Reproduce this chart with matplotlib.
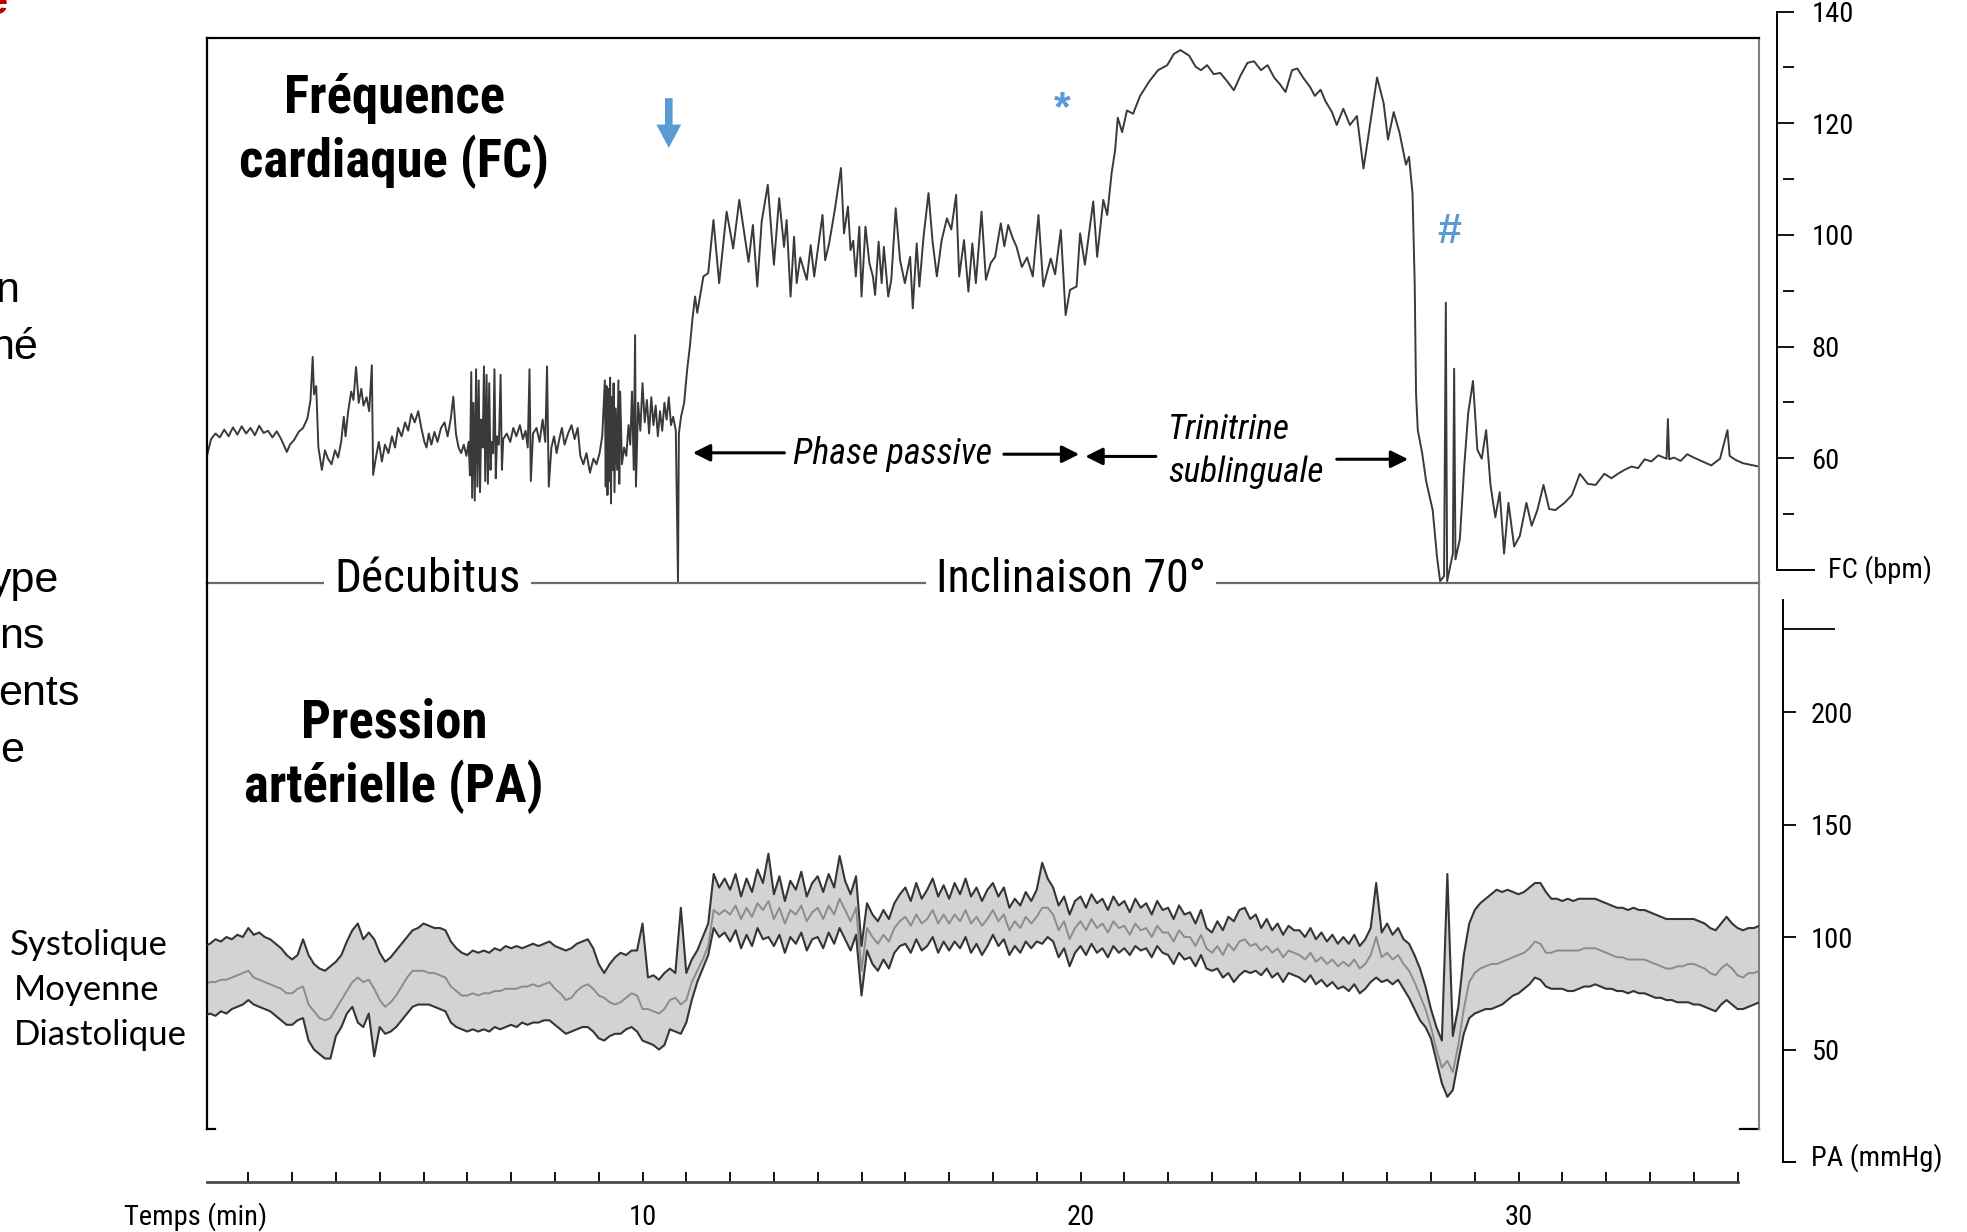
import numpy as np
import matplotlib
matplotlib.use('Agg')
import matplotlib.pyplot as plt
from matplotlib import font_manager

# ---------------------------------------------------------------------------
# Fonts : the slide uses Arial Narrow; fall back to Liberation Sans, smaller
# ---------------------------------------------------------------------------
_names = {f.name for f in font_manager.fontManager.ttflist}
NARROW, NS = 'Liberation Sans', 0.84
for cand in ('Liberation Sans Narrow', 'Roboto Condensed'):
    if cand in _names:
        NARROW, NS = cand, 1.0
        break
ARIAL = 'Liberation Sans'
CALIBRI = 'Lato'
BLUE = '#5B9BD5'
plt.rcParams['font.family'] = [NARROW, 'DejaVu Sans']

# ---------------------------------------------------------------------------
# Data : heart rate (min, bpm), by phase
# ---------------------------------------------------------------------------
fc_supine = [
    (0.05, 60.3), (0.15, 63.5), (0.25, 64.5), (0.35, 63.8), (0.45, 65.2), (0.55, 64.0), (0.65, 65.6), (0.75, 64.3),
    (0.85, 65.8), (0.95, 64.5), (1.05, 65.5), (1.15, 64.2), (1.25, 65.9), (1.35, 64.6), (1.45, 65.0), (1.55, 63.8),
    (1.65, 64.9), (1.75, 63.5), (1.88, 61.2), (1.95, 62.5), (2.05, 63.4), (2.15, 64.8), (2.25, 65.5), (2.35, 67.2),
    (2.42, 70.5), (2.47, 78.2), (2.50, 71.5), (2.55, 73.0), (2.60, 62.0), (2.68, 58.0), (2.75, 61.5), (2.82, 60.0),
    (2.90, 59.0), (2.98, 61.5), (3.05, 60.2), (3.12, 63.0), (3.18, 67.5), (3.22, 64.0), (3.28, 68.5), (3.35, 72.0),
    (3.40, 70.5), (3.46, 76.4), (3.52, 70.0), (3.58, 72.5), (3.63, 69.5), (3.70, 71.0), (3.76, 68.5), (3.82, 76.7),
    (3.85, 57.1), (3.92, 60.5), (3.98, 63.0), (4.05, 59.5), (4.12, 62.5), (4.20, 61.0), (4.28, 64.0), (4.35, 62.0),
    (4.42, 65.5), (4.50, 64.0), (4.58, 66.5), (4.65, 65.0), (4.72, 68.0), (4.80, 66.5), (4.88, 68.5), (4.95, 65.5),
    (5.02, 63.0), (5.07, 62.0), (5.12, 64.5), (5.18, 62.5), (5.25, 64.8), (5.32, 63.0), (5.40, 65.5), (5.48, 66.5),
    (5.55, 64.0), (5.62, 67.0), (5.68, 71.1), (5.74, 64.5), (5.80, 62.0), (5.86, 61.0), (5.92, 62.5), (5.98, 60.5),
    (6.03, 63.0), (6.06, 57.0), (6.09, 75.5), (6.11, 53.0), (6.14, 70.0), (6.17, 52.5), (6.20, 76.0), (6.23, 55.0),
    (6.26, 74.0), (6.29, 54.0), (6.32, 67.0), (6.35, 62.0), (6.38, 76.5), (6.41, 56.0), (6.44, 75.0), (6.47, 55.5),
    (6.50, 73.5), (6.53, 58.0), (6.56, 63.0), (6.59, 61.0), (6.62, 76.0), (6.65, 56.5), (6.68, 64.0), (6.72, 62.5),
    (6.76, 75.0), (6.79, 58.0), (6.82, 63.5), (6.90, 64.5), (6.98, 63.0), (7.05, 65.5), (7.12, 64.0), (7.20, 66.0),
    (7.27, 63.5), (7.33, 65.0), (7.38, 62.0), (7.42, 76.0), (7.45, 56.0), (7.50, 64.5), (7.58, 65.5), (7.65, 63.0),
    (7.72, 67.0), (7.78, 63.0), (7.82, 76.5), (7.86, 55.0), (7.92, 62.0), (7.98, 64.0), (8.04, 61.0), (8.10, 63.5),
    (8.16, 65.5), (8.22, 62.5), (8.30, 64.5), (8.38, 66.0), (8.45, 63.5), (8.52, 65.5), (8.58, 60.5), (8.65, 59.0),
    (8.72, 61.0), (8.80, 57.5), (8.88, 60.0), (8.95, 59.0), (9.02, 61.0), (9.08, 64.0), (9.14, 74.0), (9.16, 55.0),
    (9.18, 73.0), (9.20, 53.5), (9.22, 72.5), (9.24, 56.0), (9.26, 74.5), (9.28, 52.0), (9.30, 71.0), (9.32, 58.0),
    (9.34, 73.5), (9.36, 54.0), (9.39, 69.0), (9.42, 58.0), (9.45, 74.0), (9.47, 55.5), (9.49, 72.0), (9.53, 59.0),
    (9.58, 62.0), (9.63, 60.5), (9.68, 66.0), (9.72, 62.5), (9.76, 72.0), (9.80, 58.0), (9.83, 82.1), (9.85, 55.0),
    (9.90, 70.0), (9.95, 65.0), (10.00, 73.5), (10.05, 66.5), (10.10, 70.5), (10.15, 64.5), (10.20, 71.0), (10.25, 66.0),
    (10.30, 69.5), (10.35, 64.0), (10.40, 68.5), (10.45, 65.0), (10.50, 70.0), (10.55, 67.0), (10.60, 71.0), (10.65, 66.0),
    (10.70, 67.5), (10.76, 65.0), (10.81, 38.0), (10.83, 64.5),
]

fc_tilt = [
    (10.88, 67.5), (10.95, 70.0), (11.02, 76.0), (11.08, 80.0), (11.14, 85.0), (11.20, 89.0), (11.25, 86.1), (11.39, 92.6),
    (11.50, 93.2), (11.62, 102.7), (11.75, 91.4), (11.92, 104.2), (12.07, 97.6), (12.21, 106.3), (12.42, 95.2), (12.52, 101.8),
    (12.62, 90.8), (12.72, 102.4), (12.86, 109.0), (13.00, 94.7), (13.12, 106.6), (13.23, 97.9), (13.29, 102.7), (13.38, 89.0),
    (13.46, 99.7), (13.52, 91.4), (13.60, 96.0), (13.67, 94.1), (13.75, 92.0), (13.84, 98.2), (13.92, 92.6), (14.01, 97.9),
    (14.11, 103.6), (14.17, 95.5), (14.26, 98.5), (14.39, 104.5), (14.53, 112.0), (14.60, 100.3), (14.69, 105.1), (14.75, 97.3),
    (14.81, 99.0), (14.87, 92.6), (14.95, 101.5), (15.00, 89.0), (15.09, 101.5), (15.18, 95.0), (15.26, 92.6), (15.31, 89.3),
    (15.39, 98.8), (15.46, 91.4), (15.51, 97.9), (15.61, 89.0), (15.68, 92.0), (15.78, 104.8), (15.88, 95.5), (15.99, 91.4),
    (16.11, 96.1), (16.17, 86.9), (16.26, 98.5), (16.32, 90.8), (16.42, 100.0), (16.53, 107.5), (16.62, 99.0), (16.72, 92.6),
    (16.83, 99.1), (16.95, 103.0), (17.05, 101.0), (17.16, 107.2), (17.23, 92.6), (17.34, 99.1), (17.44, 89.9), (17.53, 98.5),
    (17.61, 91.4), (17.74, 104.2), (17.84, 92.0), (17.95, 95.0), (18.05, 96.1), (18.18, 102.1), (18.26, 98.0), (18.35, 101.8),
    (18.45, 99.5), (18.54, 97.9), (18.66, 94.3), (18.78, 96.0), (18.91, 92.6), (19.04, 103.6), (19.15, 90.8), (19.32, 95.8),
    (19.42, 93.0), (19.55, 100.9), (19.66, 85.7), (19.76, 90.2), (19.91, 90.8), (19.99, 100.3), (20.10, 94.7),
]

fc_nitro = [
    (20.29, 106.0), (20.38, 96.1), (20.52, 106.3), (20.61, 103.6), (20.71, 111.1), (20.79, 115.2), (20.85, 121.0), (20.95, 118.4),
    (21.06, 122.3), (21.20, 121.7), (21.36, 124.9), (21.57, 127.5), (21.77, 129.5), (21.98, 130.4), (22.13, 132.4), (22.28, 133.1),
    (22.48, 132.1), (22.63, 130.1), (22.75, 129.5), (22.89, 130.4), (23.04, 128.8), (23.19, 129.0), (23.35, 127.5), (23.50, 125.9),
    (23.65, 128.5), (23.81, 130.8), (23.96, 131.1), (24.12, 129.5), (24.27, 130.4), (24.42, 128.2), (24.55, 127.0), (24.68, 125.6),
    (24.83, 129.5), (24.95, 129.8), (25.08, 128.2), (25.24, 126.5), (25.35, 124.9), (25.48, 126.0), (25.59, 124.0), (25.74, 122.0),
    (25.85, 119.7), (26.00, 122.6), (26.15, 119.7), (26.31, 121.3), (26.46, 111.9), (26.56, 117.1), (26.77, 128.2), (26.92, 123.6),
    (27.02, 117.1), (27.15, 122.0), (27.28, 118.4), (27.43, 112.6), (27.50, 114.0), (27.58, 107.4),
]

fc_syncope = [
    (27.63, 91.1), (27.66, 71.6), (27.70, 65.1), (27.80, 61.0), (27.89, 56.0), (28.04, 50.8), (28.14, 42.3), (28.21, 38.1),
    (28.30, 39.0), (28.34, 87.9), (28.37, 38.1), (28.50, 43.0), (28.53, 76.1), (28.56, 42.0), (28.66, 45.6), (28.76, 58.6),
    (28.85, 68.1), (28.96, 73.9), (29.06, 61.6), (29.16, 60.0), (29.26, 65.1), (29.36, 55.3), (29.47, 49.5), (29.57, 54.0),
    (29.67, 43.0), (29.77, 52.1), (29.90, 44.3), (30.03, 46.2), (30.18, 52.1), (30.30, 48.0), (30.43, 50.8), (30.57, 55.3),
    (30.70, 51.0), (30.84, 50.8), (31.05, 52.1), (31.22, 53.5), (31.40, 57.3), (31.58, 55.5), (31.76, 55.3), (31.96, 57.3),
    (32.12, 56.5), (32.27, 57.3), (32.42, 58.0), (32.58, 58.6), (32.73, 58.3), (32.88, 59.9), (33.03, 59.5), (33.19, 60.6),
    (33.38, 60.0), (33.41, 67.1), (33.44, 59.9), (33.55, 60.2), (33.70, 59.6), (33.85, 60.8), (34.00, 60.2), (34.20, 59.5),
    (34.40, 58.8), (34.60, 60.0), (34.77, 65.1), (34.82, 60.5), (34.95, 59.8), (35.12, 59.2), (35.30, 58.9), (35.48, 58.6),
]

# ---------------------------------------------------------------------------
# Data : blood pressure (mmHg), one value every PA_STEP minutes, 8 per row = 1 min
# ---------------------------------------------------------------------------
PA_STEP = 0.125
pa_sys = [
    96, 97, 99, 98, 100, 99, 101, 100,
    104, 101, 102, 100, 99, 97, 95, 92,
    90, 92, 99, 92, 88, 86, 85, 87,
    89, 92, 98, 103, 106, 99, 102, 99,
    93, 89, 91, 94, 97, 100, 103, 104,
    106, 105, 104, 104, 103, 98, 95, 93,
    92, 94, 93, 94, 93, 95, 94, 96,
    95, 96, 95, 96, 97, 96, 97, 98,
    96, 95, 94, 95, 97, 98, 99, 95,
    88, 84, 88, 91, 93, 92, 94, 94,
    106, 82, 83, 81, 84, 86, 84, 113,
    84, 90, 94, 100, 106, 128, 122, 126,
    121, 128, 118, 126, 120, 130, 124, 137,
    119, 127, 116, 125, 121, 129, 118, 124,
    127, 120, 128, 122, 136, 125, 119, 127,
    96, 115, 110, 107, 112, 108, 115, 119,
    122, 116, 124, 117, 121, 126, 118, 123,
    117, 124, 119, 126, 118, 122, 116, 121,
    124, 118, 122, 113, 117, 114, 120, 116,
    121, 133, 126, 122, 114, 118, 110, 116,
    118, 113, 119, 115, 117, 112, 118, 114,
    116, 111, 117, 113, 115, 110, 116, 112,
    113, 108, 114, 110, 111, 106, 112, 104,
    102, 107, 103, 109, 107, 112, 113, 108,
    110, 104, 108, 103, 106, 101, 105, 103,
    103, 100, 104, 99, 102, 98, 101, 97,
    100, 97, 101, 96, 99, 104, 124, 102,
    106, 101, 104, 99, 97, 92, 86, 78,
    68, 60, 54, 128, 56, 69, 92, 106,
    112, 115, 117, 119, 121, 120, 121, 120,
    119, 120, 122, 124, 124, 120, 117, 117,
    116, 117, 116, 117, 117, 117, 117, 116,
    115, 114, 113, 113, 112, 113, 112, 112,
    111, 110, 109, 108, 108, 108, 108, 108,
    108, 107, 106, 104, 103, 106, 109, 106,
    104, 103, 104, 104, 105,
]
pa_mean = [
    79, 80, 80, 81, 81, 82, 83, 84,
    85, 82, 81, 80, 79, 78, 77, 75,
    75, 77, 78, 70, 67, 64, 63, 64,
    68, 72, 76, 80, 82, 80, 81, 77,
    72, 69, 71, 74, 78, 82, 85, 85,
    85, 84, 84, 83, 82, 78, 76, 74,
    74, 75, 74, 75, 75, 76, 76, 77,
    77, 77, 78, 78, 79, 78, 79, 80,
    77, 75, 72, 73, 76, 78, 79, 77,
    74, 73, 71, 70, 71, 73, 75, 74,
    68, 68, 67, 66, 68, 72, 73, 70,
    72, 80, 85, 90, 96, 112, 110, 112,
    110, 114, 108, 113, 109, 115, 112, 116,
    108, 113, 106, 112, 110, 114, 107, 111,
    113, 108, 114, 110, 117, 112, 107, 113,
    85, 104, 100, 97, 101, 98, 104, 107,
    109, 105, 110, 106, 108, 112, 106, 110,
    106, 110, 107, 112, 106, 109, 105, 108,
    112, 107, 110, 103, 107, 104, 109, 106,
    109, 113, 113, 110, 103, 107, 99, 104,
    107, 103, 108, 104, 106, 102, 107, 104,
    105, 101, 106, 103, 104, 100, 105, 102,
    102, 98, 103, 100, 100, 96, 101, 95,
    93, 96, 92, 97, 94, 98, 99, 96,
    97, 94, 96, 93, 95, 91, 94, 93,
    92, 90, 93, 89, 91, 88, 90, 87,
    89, 87, 90, 86, 88, 92, 100, 91,
    93, 90, 92, 88, 85, 80, 74, 68,
    60, 50, 42, 45, 40, 52, 68, 80,
    84, 86, 87, 88, 88, 89, 90, 91,
    92, 93, 95, 98, 97, 93, 93, 94,
    94, 94, 94, 94, 95, 95, 95, 94,
    93, 92, 91, 91, 90, 90, 90, 90,
    89, 88, 87, 86, 86, 87, 87, 88,
    88, 87, 86, 84, 83, 86, 88, 86,
    83, 82, 84, 84, 85,
]
pa_dia = [
    65, 66, 65, 67, 66, 68, 69, 70,
    72, 70, 69, 68, 67, 65, 63, 61,
    61, 63, 64, 54, 50, 48, 46, 46,
    56, 60, 66, 69, 62, 60, 66, 47,
    60, 57, 58, 60, 63, 66, 69, 70,
    70, 70, 69, 68, 67, 62, 60, 59,
    58, 59, 58, 59, 58, 60, 59, 60,
    61, 60, 62, 61, 62, 62, 63, 63,
    61, 59, 57, 58, 59, 60, 60, 58,
    55, 54, 56, 57, 57, 59, 60, 58,
    54, 53, 52, 50, 52, 59, 58, 57,
    62, 72, 80, 86, 92, 104, 100, 102,
    98, 103, 95, 101, 96, 104, 99, 100,
    96, 101, 93, 100, 97, 102, 94, 99,
    100, 95, 102, 97, 104, 99, 94, 101,
    74, 94, 88, 85, 90, 86, 93, 96,
    97, 93, 99, 94, 96, 100, 93, 98,
    94, 98, 95, 100, 93, 97, 92, 96,
    101, 96, 99, 92, 96, 93, 98, 95,
    98, 97, 100, 98, 91, 95, 87, 93,
    96, 92, 97, 93, 95, 91, 96, 93,
    95, 92, 96, 94, 95, 91, 96, 93,
    92, 88, 93, 90, 91, 87, 92, 86,
    85, 86, 82, 84, 80, 83, 85, 84,
    85, 83, 86, 82, 84, 80, 84, 83,
    82, 80, 83, 79, 81, 78, 80, 77,
    78, 76, 79, 75, 77, 80, 82, 80,
    81, 79, 81, 77, 73, 68, 63, 60,
    55, 45, 35, 29, 32, 45, 57, 64,
    66, 67, 68, 68, 69, 70, 72, 74,
    75, 77, 79, 82, 81, 78, 77, 77,
    77, 76, 76, 77, 78, 78, 79, 78,
    77, 77, 76, 76, 75, 76, 75, 75,
    74, 73, 73, 72, 72, 71, 71, 71,
    70, 70, 69, 68, 67, 70, 72, 70,
    68, 68, 69, 70, 71,
]

# scales
fc_ticks = [60, 80, 100, 120, 140]
fc_minor = [50, 70, 90, 110, 130]
pa_ticks = [50, 100, 150, 200]
pa_top_mark = 237
time_ticks = list(range(1, 36))
time_labels = {10: '10', 20: '20', 30: '30'}

# ---------------------------------------------------------------------------
# Layout helpers (pixel geometry of the original slide)
# ---------------------------------------------------------------------------
W, H = 1967, 1232
T0, T1 = 0.057, 35.49          # minutes at the box left / right edge
LABEL_FS = 20.5 * NS


def px_rect(x0, y0, x1, y1):
    return [x0 / W, 1 - y1 / H, (x1 - x0) / W, (y1 - y0) / H]


def fx(x):
    return x / W


def fy(y):
    return 1 - y / H


fig = plt.figure(figsize=(W / 100, H / 100), dpi=100)
fig.patch.set_facecolor('white')

# ---- top panel : heart rate ----------------------------------------------
ax_fc = fig.add_axes(px_rect(207, 37.6, 1759, 583))
ax_fc.set_xlim(T0, T1)
ax_fc.set_ylim(37.76, 135.33)
ax_fc.set_xticks([])
ax_fc.set_yticks([])
ax_fc.patch.set_visible(False)
for side in ('top', 'left'):
    ax_fc.spines[side].set_linewidth(1.6)
ax_fc.spines['right'].set_color('#7f7f7f')
ax_fc.spines['right'].set_linewidth(1.5)
ax_fc.spines['bottom'].set_color('#6a6a6a')
ax_fc.spines['bottom'].set_linewidth(1.6)

fc_all = fc_supine + fc_tilt + fc_nitro + fc_syncope
fc_t = [p[0] for p in fc_all]
fc_v = [p[1] for p in fc_all]
ax_fc.plot(fc_t, fc_v, color='#3a3a3a', lw=1.4, zorder=2)

ax_fc.text(4.33, 118.6, 'Fréquence\ncardiaque (FC)', ha='center', va='center',
           fontsize=38 * NS, fontweight='bold', linespacing=1.26)

phase_box = dict(boxstyle='square,pad=0.22', fc='white', ec='none')
ax_fc.text(5.10, 36.1, 'Décubitus', ha='center', va='baseline', fontsize=34 * NS,
           bbox=phase_box, zorder=5)
ax_fc.text(19.78, 36.1, 'Inclinaison 70°', ha='center', va='baseline', fontsize=33 * NS,
           bbox=phase_box, zorder=5)

arrow_kw = dict(arrowstyle='-|>', lw=2.2, color='black', mutation_scale=26,
                shrinkA=0, shrinkB=0)
ax_fc.annotate('', xy=(11.15, 61.05), xytext=(13.24, 61.05), arrowprops=arrow_kw)
ax_fc.annotate('', xy=(19.97, 60.8), xytext=(18.25, 60.8), arrowprops=arrow_kw)
ax_fc.annotate('', xy=(20.11, 60.4), xytext=(21.72, 60.4), arrowprops=arrow_kw)
ax_fc.annotate('', xy=(27.48, 59.9), xytext=(25.85, 59.9), arrowprops=arrow_kw)
ax_fc.text(15.70, 60.8, 'Phase passive', ha='center', va='center',
           fontsize=26 * NS, style='italic')
ax_fc.text(22.0, 61.5, 'Trinitrine\nsublinguale', ha='left', va='center',
           fontsize=25.5 * NS, style='italic', linespacing=1.36)

# blue markers
ax_fc.annotate('', xy=(10.6, 115.6), xytext=(10.6, 124.5),
               arrowprops=dict(arrowstyle='simple,head_length=0.8,head_width=0.85,tail_width=0.26',
                               color=BLUE, mutation_scale=21, shrinkA=0, shrinkB=0, lw=0))
ax_fc.text(19.59, 120.6, '*', color=BLUE, fontsize=31, fontweight='bold',
           family=ARIAL, ha='center', va='baseline')
ax_fc.text(28.42, 98.6, '#', color=BLUE, fontsize=31, fontweight='bold',
           family=ARIAL, ha='center', va='baseline')

# ---- bottom panel : blood pressure ---------------------------------------
ax_pa = fig.add_axes(px_rect(207, 583, 1759, 1129))
ax_pa.set_xlim(T0, T1)
ax_pa.set_ylim(14.7, 257.3)
ax_pa.set_xticks([])
ax_pa.set_yticks([])
ax_pa.patch.set_visible(False)
ax_pa.spines['top'].set_visible(False)
ax_pa.spines['bottom'].set_visible(False)
ax_pa.spines['left'].set_linewidth(1.6)
ax_pa.spines['right'].set_color('#7f7f7f')
ax_pa.spines['right'].set_linewidth(1.5)
# little feet at the bottom corners of the frame
ax_pa.plot([0, 0.005], [0, 0], transform=ax_pa.transAxes, color='black', lw=1.6, clip_on=False)
ax_pa.plot([0.988, 1], [0, 0], transform=ax_pa.transAxes, color='black', lw=1.6, clip_on=False)

pa_t = np.arange(len(pa_sys)) * PA_STEP
ax_pa.fill_between(pa_t, pa_dia, pa_sys, color='#d3d3d3', lw=0, zorder=1)
ax_pa.plot(pa_t, pa_sys, color='#353535', lw=1.5, zorder=3)
ax_pa.plot(pa_t, pa_dia, color='#353535', lw=1.5, zorder=3)
ax_pa.plot(pa_t, pa_mean, color='#8c8c8c', lw=1.4, zorder=2)

ax_pa.text(4.33, 180.5, 'Pression\nartérielle (PA)', ha='center', va='center',
           fontsize=38 * NS, fontweight='bold', linespacing=1.26)

# ---- time axis -----------------------------------------------------------
ax_t = fig.add_axes(px_rect(207, 1170, 1759, 1182))
ax_t.set_xlim(T0, T1)
ax_t.set_yticks([])
ax_t.patch.set_visible(False)
for side in ('top', 'left', 'right'):
    ax_t.spines[side].set_visible(False)
ax_t.spines['bottom'].set_color('#4a4a4a')
ax_t.spines['bottom'].set_linewidth(2.0)
ax_t.spines['bottom'].set_bounds(T0, 35)
ax_t.set_xticks(time_ticks)
ax_t.set_xticklabels([time_labels.get(m, '') for m in time_ticks])
ax_t.tick_params(axis='x', direction='in', length=7.5, width=1.3, pad=16, labelsize=LABEL_FS)
fig.text(fx(196), fy(1217), 'Temps (min)', ha='center', va='center', fontsize=LABEL_FS)

# ---- FC scale ------------------------------------------------------------
ax_fs = fig.add_axes(px_rect(1776, 11.5, 1777, 570))
ax_fs.set_xlim(0, 1)
ax_fs.set_ylim(40, 140)
ax_fs.patch.set_visible(False)
for side in ('top', 'bottom', 'left'):
    ax_fs.spines[side].set_visible(False)
ax_fs.spines['right'].set_linewidth(1.4)
ax_fs.set_xticks([])
ax_fs.yaxis.tick_right()
ax_fs.set_yticks(fc_ticks)
ax_fs.tick_params(axis='y', direction='out', length=12.2, width=1.3, pad=12.6, labelsize=LABEL_FS)
tr = ax_fs.get_yaxis_transform()
ax_fs.hlines(fc_minor, 7, 18.4, transform=tr, color='black', lw=1.3, clip_on=False)
ax_fs.hlines([40], 1, 39.5, transform=tr, color='black', lw=1.4, clip_on=False)
ax_fs.text(52, 40, 'FC (bpm)', transform=tr, ha='left', va='center', fontsize=LABEL_FS)

# ---- PA scale ------------------------------------------------------------
ax_ps = fig.add_axes(px_rect(1782, 600, 1783, 1162))
ax_ps.set_xlim(0, 1)
ax_ps.set_ylim(0, 250)
ax_ps.patch.set_visible(False)
for side in ('top', 'bottom', 'left'):
    ax_ps.spines[side].set_visible(False)
ax_ps.spines['right'].set_linewidth(1.4)
ax_ps.set_xticks([])
ax_ps.yaxis.tick_right()
ax_ps.set_yticks(pa_ticks)
ax_ps.tick_params(axis='y', direction='out', length=9.6, width=1.3, pad=10.5, labelsize=LABEL_FS)
tr = ax_ps.get_yaxis_transform()
ax_ps.hlines([pa_top_mark], 1, 52.6, transform=tr, color='black', lw=1.3, clip_on=False)
ax_ps.hlines([0], 1, 14.4, transform=tr, color='black', lw=1.4, clip_on=False)
ax_ps.text(29, 2, 'PA (mmHg)', transform=tr, ha='left', va='center', fontsize=LABEL_FS)

# ---- slide text cut by the left edge -------------------------------------
fig.text(fx(7), fy(14), 'e', color='#C00000', fontweight='bold', fontsize=30,
         family=ARIAL, ha='right', va='baseline')
for frag, right, base in [('n', 19, 302), ('né', 38, 359), ('ype', 59, 592),
                          ('ns', 45, 648), ('ents', 79, 705), ('e', 24, 762)]:
    fig.text(fx(right), fy(base), frag, ha='right', va='baseline', fontsize=31, family=ARIAL)

for lab, left, cy in [('Systolique', 10, 944.6), ('Moyenne', 13.8, 989.8),
                      ('Diastolique', 13.8, 1035)]:
    fig.text(fx(left), fy(cy), lab, ha='left', va='center', fontsize=25, family=CALIBRI)

fig.savefig('out.png', dpi=100)
